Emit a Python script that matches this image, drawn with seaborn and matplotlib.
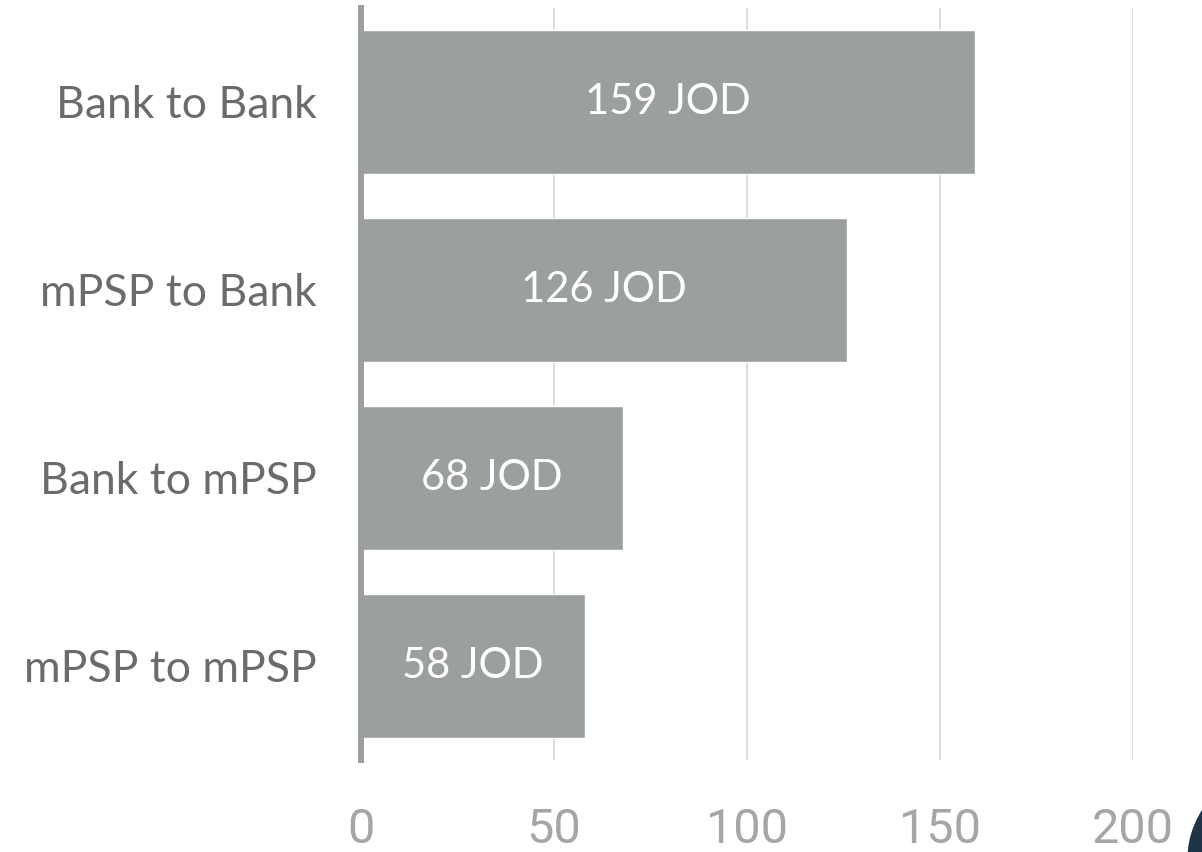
import matplotlib
matplotlib.use('Agg')
import matplotlib.pyplot as plt
import seaborn as sns
import pandas as pd
from matplotlib.patches import Ellipse

# Chart data
categories = ['Bank to Bank', 'mPSP to Bank', 'Bank to mPSP', 'mPSP to mPSP']
values = [159, 126, 68, 58]
bar_labels = ['159 JOD', '126 JOD', '68 JOD', '58 JOD']
x_ticks = [0, 50, 100, 150, 200]

df = pd.DataFrame({'category': categories, 'value': values})

sns.set_style('white')
plt.rcParams['font.family'] = ['Lato', 'DejaVu Sans']

fig = plt.figure(figsize=(12.02, 8.52), dpi=100)
ax = fig.add_axes([361 / 1202, 1 - 760 / 852, (1133 - 361) / 1202, (760 - 8) / 852])

sns.barplot(data=df, x='value', y='category', color='#9c9fa0', saturation=1,
            width=0.77, ax=ax, zorder=2)

for patch, label in zip(ax.patches, bar_labels):
    ax.text(patch.get_x() + patch.get_width() / 2, patch.get_y() + patch.get_height() / 2,
            label, ha='center', va='center', color='white', fontsize=30)

ax.set_xlim(0, 200)
ax.set_ylim(3.5, -0.5)
ax.set_xticks(x_ticks)
ax.set_xticklabels([str(t) for t in x_ticks], family=['Roboto', 'DejaVu Sans'])
ax.grid(axis='x', color='#dddddd', linewidth=1.5, zorder=0)
ax.set_axisbelow(True)

for side in ['top', 'right', 'bottom']:
    ax.spines[side].set_visible(False)
ax.spines['left'].set_color('#9c9fa0')
ax.spines['left'].set_linewidth(4.3)
ax.spines['left'].set_zorder(3)

ax.tick_params(axis='x', length=0, pad=34, labelsize=35, labelcolor='#a6a6a6')
ax.tick_params(axis='y', length=0, pad=32, labelsize=32, labelcolor='#6b6b6b')
ax.set_xlabel('')
ax.set_ylabel('')

# dark decorative shape in the bottom-right corner
fig.patches.append(Ellipse((1280 / 1202, 1 - 860 / 852), 184 / 1202, 184 / 852,
                           transform=fig.transFigure, color='#1f3447', zorder=5))

fig.savefig('out.png', dpi=100)
